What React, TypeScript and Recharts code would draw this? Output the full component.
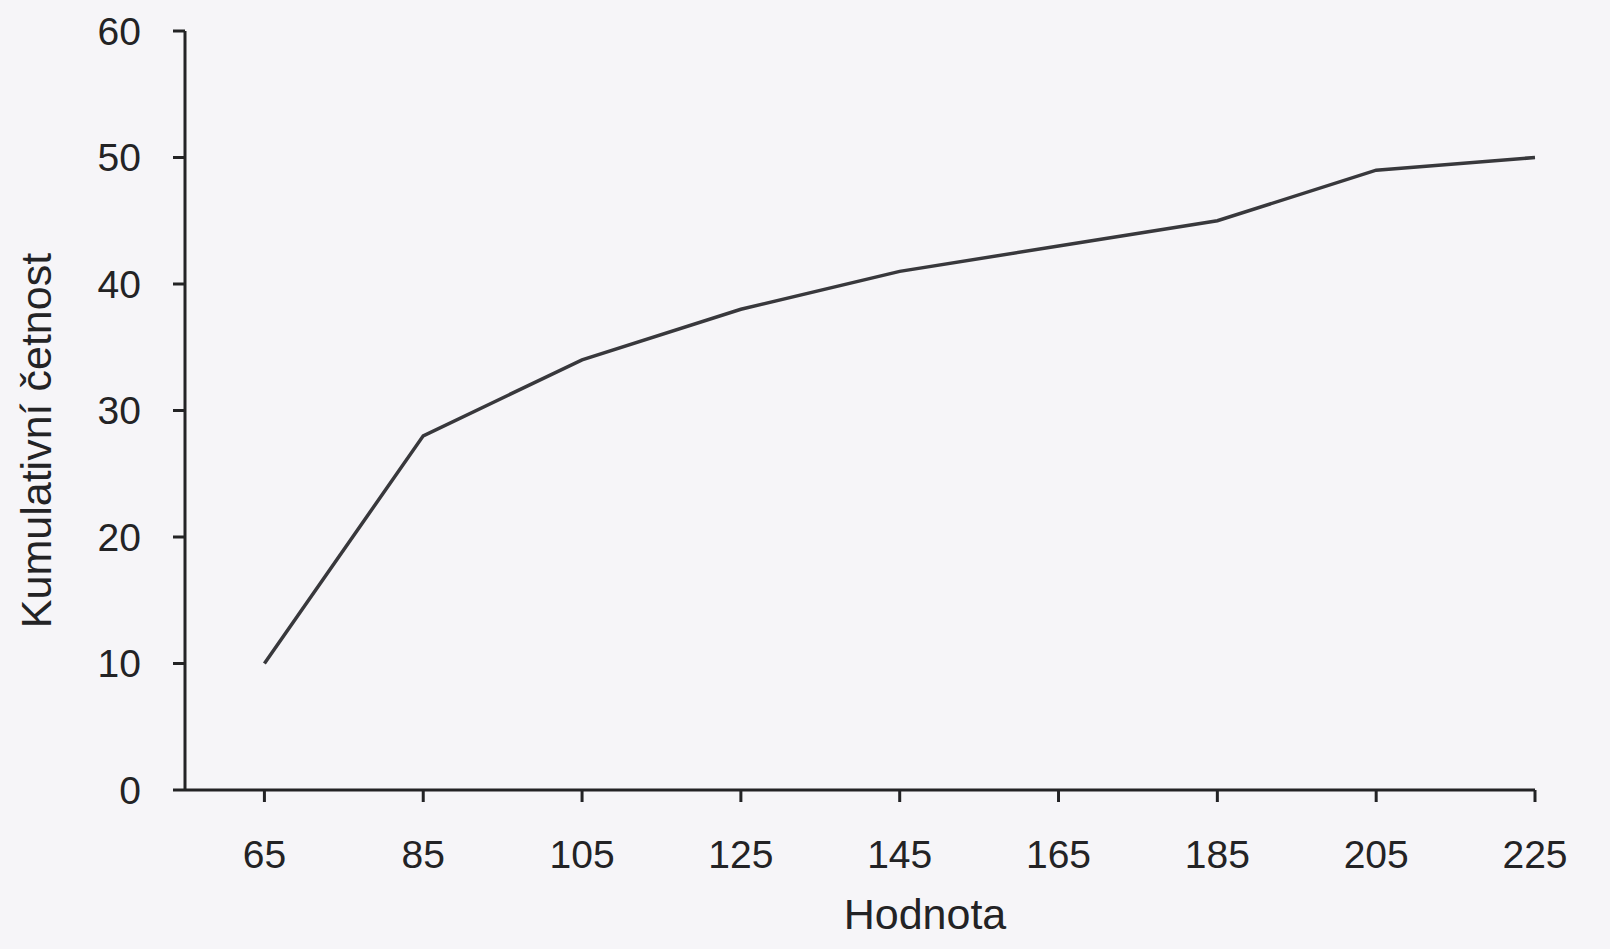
import React from 'react';
import { LineChart, Line, XAxis, YAxis, Label } from 'recharts';

// values
const hodnoty = [65, 85, 105, 125, 145, 165, 185, 205, 225];
const kumulativniCetnost = [10, 28, 34, 38, 41, 43, 45, 49, 50];
const yTicks = [0, 10, 20, 30, 40, 50, 60];

const data = hodnoty.map((h, i) => ({ hodnota: h, cetnost: kumulativniCetnost[i] }));

const font = '"Liberation Sans", Arial, sans-serif';
const ink = '#232325';

export default function App() {
  return (
    <div style={{ position: 'absolute', left: 0, top: 0, width: 1610, height: 949, background: '#f6f5f8' }}>
      <LineChart width={1610} height={949} data={data} margin={{ top: 31, right: 75, left: 0, bottom: 0 }}>
        <XAxis
          type="number"
          dataKey="hodnota"
          domain={[55, 225]}
          ticks={hodnoty}
          interval={0}
          height={159}
          stroke={ink}
          strokeWidth={3}
          tickSize={12}
          tickMargin={38}
          tick={{ fill: ink, fontSize: 39, fontFamily: font }}
        >
          <Label
            content={({ viewBox }: any) => (
              <text
                x={viewBox.x + viewBox.width / 2 + 65}
                y={929}
                textAnchor="middle"
                fill={ink}
                fontSize={43}
                fontFamily={font}
              >
                Hodnota
              </text>
            )}
          />
        </XAxis>
        <YAxis
          domain={[0, 60]}
          ticks={yTicks}
          interval={0}
          width={185}
          stroke={ink}
          strokeWidth={3}
          tickSize={12}
          tickMargin={32}
          tick={{ fill: ink, fontSize: 39, fontFamily: font }}
        >
          <Label
            content={({ viewBox }: any) => {
              const cx = 36;
              const cy = viewBox.y + viewBox.height / 2 + 30;
              return (
                <text
                  x={cx}
                  y={cy}
                  transform={`rotate(-90, ${cx}, ${cy})`}
                  textAnchor="middle"
                  dominantBaseline="central"
                  fill={ink}
                  fontSize={43}
                  fontFamily={font}
                >
                  Kumulativní četnost
                </text>
              );
            }}
          />
        </YAxis>
        <Line
          type="linear"
          dataKey="cetnost"
          stroke="#38383c"
          strokeWidth={3.5}
          dot={false}
          isAnimationActive={false}
        />
      </LineChart>
    </div>
  );
}
